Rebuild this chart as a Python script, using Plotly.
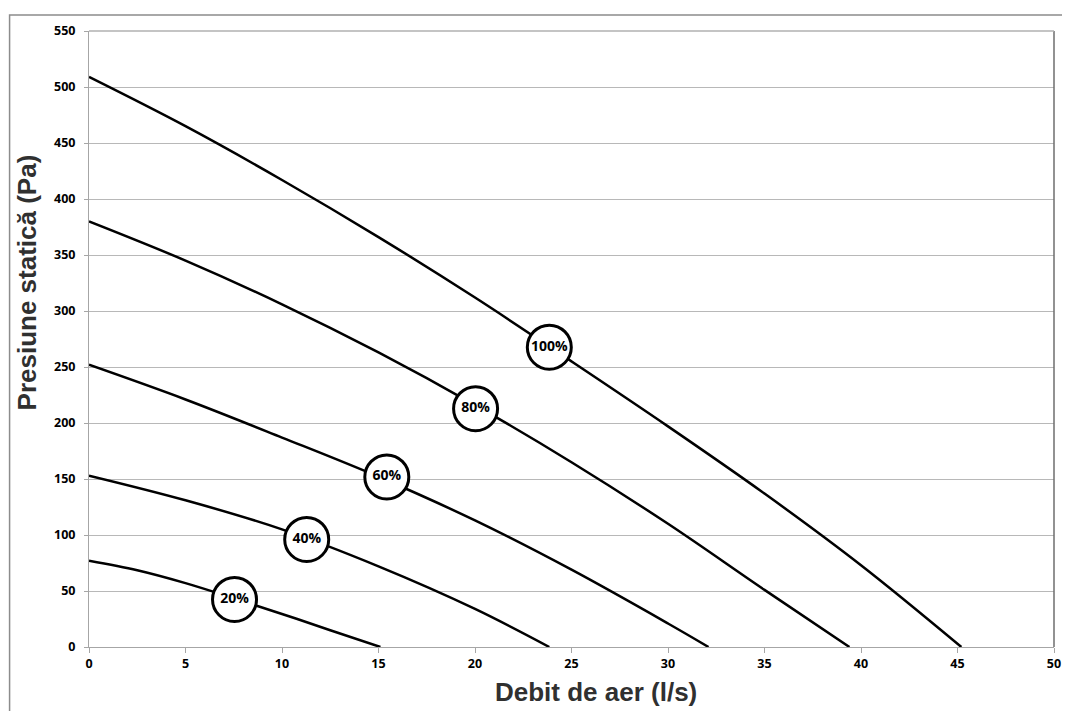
import plotly.graph_objects as go

# Data
q100 = [0, 5, 10, 15, 20, 25, 30, 35, 40, 45.2]
p100 = [509, 465, 417, 366, 312, 255, 197, 137, 73, 0]

q80 = [0, 5, 10, 15, 20, 25, 30, 35, 39.4]
p80 = [380, 345, 306, 263, 216, 165, 110, 51, 0]

q60 = [0, 5, 10, 15, 20, 25, 30, 32.1]
p60 = [252, 221, 187, 152, 113, 69, 21, 0]

q40 = [0, 5, 10, 15, 20, 23.85]
p40 = [153, 131, 105, 72, 34, 0]

q20 = [0, 2.5, 5, 7.5, 10, 12.5, 15.1]
p20 = [77, 68.5, 57, 43.5, 29.5, 15, 0]

label_text = ["100%", "80%", "60%", "40%", "20%"]
label_q = [23.85, 20.03, 15.43, 11.28, 7.54]
label_p = [267.7, 212.8, 151.8, 96, 42.5]

x_ticks = list(range(0, 51, 5))
y_ticks = list(range(0, 551, 50))

fig = go.Figure()
for q, p in [(q100, p100), (q80, p80), (q60, p60), (q40, p40), (q20, p20)]:
    fig.add_trace(go.Scatter(x=q, y=p, mode="lines",
                             line=dict(color="black", width=2.5, shape="spline", smoothing=1.0),
                             hoverinfo="skip", showlegend=False))

fig.add_trace(go.Scatter(x=label_q, y=label_p, mode="markers+text", text=label_text,
                         textposition="middle center",
                         textfont=dict(family="Open Sans", size=14, color="black", weight="bold"),
                         marker=dict(size=44, color="white", line=dict(color="black", width=3)),
                         cliponaxis=False, showlegend=False))

# the page body has an 8px margin, so the figure is shifted by that amount
OFF = 8
W, H = 1070 - OFF, 711 - OFF
L, R, T, B = 89 - OFF, 1061 - OFF, 31 - OFF, 647 - OFF
pw, ph = R - L, B - T

def px_x(p):
    return (p - OFF - L) / pw

def px_y(p):
    return (B - (p - OFF)) / ph

tickfont = dict(family="Open Sans", size=12.5, color="black", weight="bold")
fig.update_layout(
    width=W, height=H,
    margin=dict(l=L, r=W - R, t=T, b=H - B),
    paper_bgcolor="white", plot_bgcolor="white",
    xaxis=dict(range=[0, 50], tickvals=x_ticks, showgrid=False, zeroline=False,
               showline=True, linecolor="#a6a6a6", linewidth=1,
               ticks="outside", ticklen=5, tickcolor="#a6a6a6", tickfont=tickfont),
    yaxis=dict(range=[0, 550], tickvals=y_ticks, showgrid=True, gridcolor="#b8b8b8", gridwidth=1,
               zeroline=False, showline=True, linecolor="#a6a6a6", linewidth=1,
               ticks="outside", ticklen=4, tickcolor="#a6a6a6", tickfont=tickfont,
               ticklabelstandoff=6),
    annotations=[
        dict(text="Presiune statică (Pa)", xref="paper", yref="paper",
             x=px_x(27), y=px_y(282), xanchor="center", yanchor="middle",
             textangle=-90, showarrow=False,
             font=dict(family="Liberation Sans", size=26, color="#303030", weight="bold")),
        dict(text="Debit de aer (l/s)", xref="paper", yref="paper",
             x=px_x(600), y=px_y(692), xanchor="center", yanchor="middle",
             showarrow=False,
             font=dict(family="Liberation Sans", size=26, color="#303030", weight="bold")),
    ],
    shapes=[
        dict(type="rect", xref="paper", yref="paper",
             x0=px_x(9), x1=px_x(1080), y0=px_y(15), y1=px_y(730),
             line=dict(color="#8c8c8c", width=1.5), layer="below"),
        dict(type="line", xref="paper", yref="paper", x0=1, x1=1, y0=0, y1=1,
             line=dict(color="#6e6e6e", width=1.5)),
        dict(type="line", xref="paper", yref="paper", x0=0, x1=1, y0=1, y1=1,
             line=dict(color="#b0b0b0", width=1.5)),
    ],
)

fig.write_html("out.html")
